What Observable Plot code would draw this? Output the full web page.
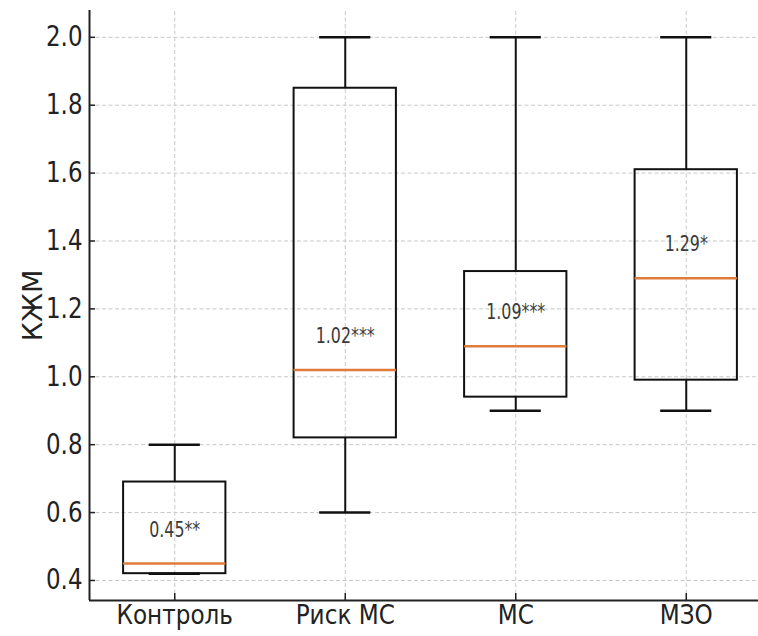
<!DOCTYPE html>
<html>
<head>
<meta charset="utf-8">
<script src="https://cdn.jsdelivr.net/npm/d3@7"></script>
<script src="https://cdn.jsdelivr.net/npm/@observablehq/plot@0.6"></script>
<style>
  html, body { margin: 0; padding: 0; background: #fff; }
  #chart svg { display: block; }
</style>
</head>
<body>
<div id="chart"></div>
<script>
const categories = ["Контроль", "Риск МС", "МС", "МЗО"];
const positions = [1, 2, 3, 4];
const whiskerLow = [0.42, 0.60, 0.90, 0.90];
const q1 = [0.42, 0.82, 0.94, 0.99];
const median = [0.45, 1.02, 1.09, 1.29];
const q3 = [0.69, 1.85, 1.31, 1.61];
const whiskerHigh = [0.80, 2.00, 2.00, 2.00];
const annotations = ["0.45**", "1.02***", "1.09***", "1.29*"];
const yTicks = [0.4, 0.6, 0.8, 1.0, 1.2, 1.4, 1.6, 1.8, 2.0];
const yLabel = "КЖМ";

const xDomain = [0.5, 4.5];
const yDomain = [0.341, 2.079];
const boxHalf = 0.3, capHalf = 0.15;
const fmt = d3.format(".1f");

const rows = categories.map((c, i) => ({
  cat: c, pos: positions[i], lo: whiskerLow[i], q1: q1[i], med: median[i],
  q3: q3[i], hi: whiskerHigh[i], label: annotations[i]
}));

const gridStyle = {stroke: "#c8c8c8", strokeWidth: 1, strokeDasharray: "4,2.5"};
const font = "'DejaVu Sans', sans-serif";

const chart = Plot.plot({
  width: 758,
  height: 636,
  marginLeft: 89,
  marginRight: 0,
  marginTop: 10,
  marginBottom: 36,
  style: {fontFamily: font, background: "#fff", overflow: "hidden"},
  x: {type: "linear", domain: xDomain, range: [89, 771], axis: null},
  y: {domain: yDomain, range: [600, 10], axis: null},
  marks: [
    Plot.ruleY(yTicks, {x1: xDomain[0], x2: xDomain[1], ...gridStyle}),
    Plot.ruleX(positions, {y1: yDomain[0], y2: yDomain[1], ...gridStyle}),
    Plot.ruleX(rows, {x: "pos", y1: "q3", y2: "hi", stroke: "#111", strokeWidth: 2}),
    Plot.ruleX(rows, {x: "pos", y1: "lo", y2: "q1", stroke: "#111", strokeWidth: 2}),
    Plot.ruleY(rows, {y: "hi", x1: d => d.pos - capHalf, x2: d => d.pos + capHalf, stroke: "#111", strokeWidth: 2.5}),
    Plot.ruleY(rows, {y: "lo", x1: d => d.pos - capHalf, x2: d => d.pos + capHalf, stroke: "#111", strokeWidth: 2.5}),
    Plot.rect(rows, {x1: d => d.pos - boxHalf, x2: d => d.pos + boxHalf, y1: "q1", y2: "q3", fill: "none", stroke: "#111", strokeWidth: 2}),
    Plot.ruleY(rows, {y: "med", x1: d => d.pos - boxHalf, x2: d => d.pos + boxHalf, stroke: "#e07b3c", strokeWidth: 2.5}),
    Plot.text(rows, {x: "pos", y: d => d.med + 0.1, text: "label", fontSize: 22, fill: "#3a3a3a"}),
    Plot.ruleX([xDomain[0]], {y1: yDomain[0], y2: yDomain[1], stroke: "#222", strokeWidth: 2}),
    Plot.ruleY([yDomain[0]], {x1: xDomain[0], x2: xDomain[1], stroke: "#222", strokeWidth: 2}),
    Plot.ruleY(yTicks, {x1: xDomain[0], x2: xDomain[0] + 6 / 170.5, stroke: "#222", strokeWidth: 1.5}),
    Plot.ruleX(positions, {y1: yDomain[0], y2: yDomain[0] + 7 / 338.75, stroke: "#222", strokeWidth: 1.5}),
    // tick labels
    Plot.text(yTicks, {x: xDomain[0], y: d => d, text: d => fmt(d), textAnchor: "end", dx: -7, fontSize: 28, fill: "#222"}),
    Plot.text(positions, {x: d => d, y: yDomain[0], text: d => categories[d - 1], lineAnchor: "top", dy: 5, fontSize: 26, fill: "#222"}),
    Plot.text([yLabel], {frameAnchor: "left", textAnchor: "middle", dx: -56, rotate: -90, fontSize: 27, fill: "#222"})
  ]
});

// horizontally condense text labels around their anchor points (matched by content)
const squeeze = new Map([
  ...annotations.map(t => [t, 0.72]),
  ...yTicks.map(t => [fmt(t), 0.82]),
  ...categories.map(t => [t, 0.89])
]);
d3.select(chart).selectAll("text").each(function () {
  const s = squeeze.get(this.textContent.trim());
  if (!s) return;
  const t = d3.select(this);
  const tr = t.attr("transform");
  if (tr && tr.includes("translate")) {
    t.attr("transform", `${tr} scale(${s},1)`);
  } else {
    const x = +(t.attr("x") || 0), y = +(t.attr("y") || 0);
    t.attr("transform", `translate(${x},${y}) scale(${s},1) translate(${-x},${-y})`);
  }
});
document.getElementById("chart").appendChild(chart);
</script>
</body>
</html>
